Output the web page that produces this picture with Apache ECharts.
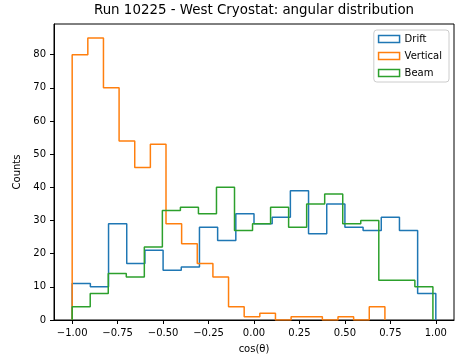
<!DOCTYPE html>
<html>
<head>
<meta charset="utf-8">
<script src="https://cdn.jsdelivr.net/npm/echarts@6/dist/echarts.min.js"></script>
<style>
  html, body { margin: 0; padding: 0; background: #fff; }
  #chart { width: 466px; height: 359px; }
</style>
</head>
<body>
<div id="chart"></div>
<script>
// Histogram counts per bin for each track class (cos(theta) of the track direction)
const driftCounts    = [11, 10, 29, 17, 21, 15, 16, 28, 24, 32, 29, 31, 39, 26, 35, 28, 27, 31, 27, 8];
const verticalCounts = [80, 85, 70, 54, 46, 53, 29, 23, 17, 13, 4, 1, 2, 0, 1, 1, 0, 1, 0, 4];
const beamCounts     = [4, 8, 14, 13, 22, 33, 34, 32, 40, 27, 29, 34, 28, 35, 38, 29, 30, 12, 12, 10];

// Histogram ranges (each sample binned into 20 equal bins over its own range)
const driftRange    = [-1.0, 1.0];
const verticalRange = [-1.0, 0.72];
const beamRange     = [-1.0, 0.984];

const seriesNames = ['Drift', 'Vertical', 'Beam'];
const xTicks = [-1.0, -0.75, -0.5, -0.25, 0.0, 0.25, 0.5, 0.75, 1.0];
const yTicks = [0, 10, 20, 30, 40, 50, 60, 70, 80];

const colors = ['#1f77b4', '#ff7f0e', '#2ca02c'];

// Outline of a step histogram: up from the baseline, across each bin, back down
function stepOutline(counts, range) {
  const n = counts.length;
  const w = (range[1] - range[0]) / n;
  const pts = [[range[0], 0]];
  for (let i = 0; i < n; i++) {
    const a = range[0] + i * w, b = range[0] + (i + 1) * w;
    pts.push([a, counts[i]]);
    pts.push([b, counts[i]]);
  }
  pts.push([range[1], 0]);
  return pts;
}

const fmtX = v => {
  const s = Math.abs(v).toFixed(2);
  return (v < -1e-9 ? '\u2212' : '') + s;
};

const font = 'DejaVu Sans';
const chart = echarts.init(document.getElementById('chart'), null, { renderer: 'canvas' });

const allCounts = [driftCounts, verticalCounts, beamCounts];
const allRanges = [driftRange, verticalRange, beamRange];

chart.setOption({
  animation: false,
  backgroundColor: '#fff',
  title: {
    text: 'Run 10225 - West Cryostat: angular distribution',
    left: 254,
    textAlign: 'center',
    top: 4,
    padding: 0,
    textStyle: { fontFamily: font, fontSize: 13.4, fontWeight: 'normal', color: '#000' }
  },
  legend: {
    orient: 'vertical',
    right: 17,
    top: 30,
    padding: [4, 7, 4, 4],
    itemWidth: 21,
    itemHeight: 7,
    itemGap: 7,
    itemTextGap: 11,
    icon: 'rect',
    backgroundColor: 'rgba(255,255,255,0.8)',
    borderColor: '#cccccc',
    borderWidth: 1,
    borderRadius: 3,
    textStyle: { fontFamily: font, fontSize: 10, color: '#000' },
    data: seriesNames.map((n, i) => ({
      name: n,
      itemStyle: { color: 'rgba(0,0,0,0)', borderColor: colors[i], borderWidth: 1.5 }
    }))
  },
  grid: {
    left: 54, right: 12, top: 24, bottom: 36,
    show: true, borderColor: '#000', borderWidth: 1, backgroundColor: 'transparent'
  },
  xAxis: {
    type: 'value',
    min: -1.1,
    max: 1.1,
    name: 'cos(\u03b8)',
    nameLocation: 'middle',
    nameGap: 24,
    nameTextStyle: { fontFamily: font, fontSize: 10, color: '#000' },
    axisLine: { show: true, onZero: false, lineStyle: { color: '#000', width: 1 } },
    axisTick: { show: true, length: 4, customValues: xTicks, lineStyle: { color: '#000', width: 1 } },
    axisLabel: {
      customValues: xTicks, formatter: fmtX, margin: 8,
      fontFamily: font, fontSize: 10, color: '#000'
    },
    splitLine: { show: false }
  },
  yAxis: {
    type: 'value',
    min: 0,
    max: 89.25,
    name: 'Counts',
    nameLocation: 'middle',
    nameGap: 27,
    nameRotate: 90,
    nameTextStyle: { fontFamily: font, fontSize: 10, color: '#000' },
    axisLine: { show: true, onZero: false, lineStyle: { color: '#000', width: 1 } },
    axisTick: { show: true, length: 4, customValues: yTicks, lineStyle: { color: '#000', width: 1 } },
    axisLabel: {
      customValues: yTicks, margin: 8,
      fontFamily: font, fontSize: 10, color: '#000'
    },
    splitLine: { show: false }
  },
  series: seriesNames.map((n, i) => ({
    name: n,
    type: 'line',
    data: stepOutline(allCounts[i], allRanges[i]),
    showSymbol: false,
    symbol: 'none',
    color: colors[i],
    itemStyle: { color: colors[i] },
    lineStyle: { color: colors[i], width: 1.5 },
    z: 2 + i
  }))
});
</script>
</body>
</html>
